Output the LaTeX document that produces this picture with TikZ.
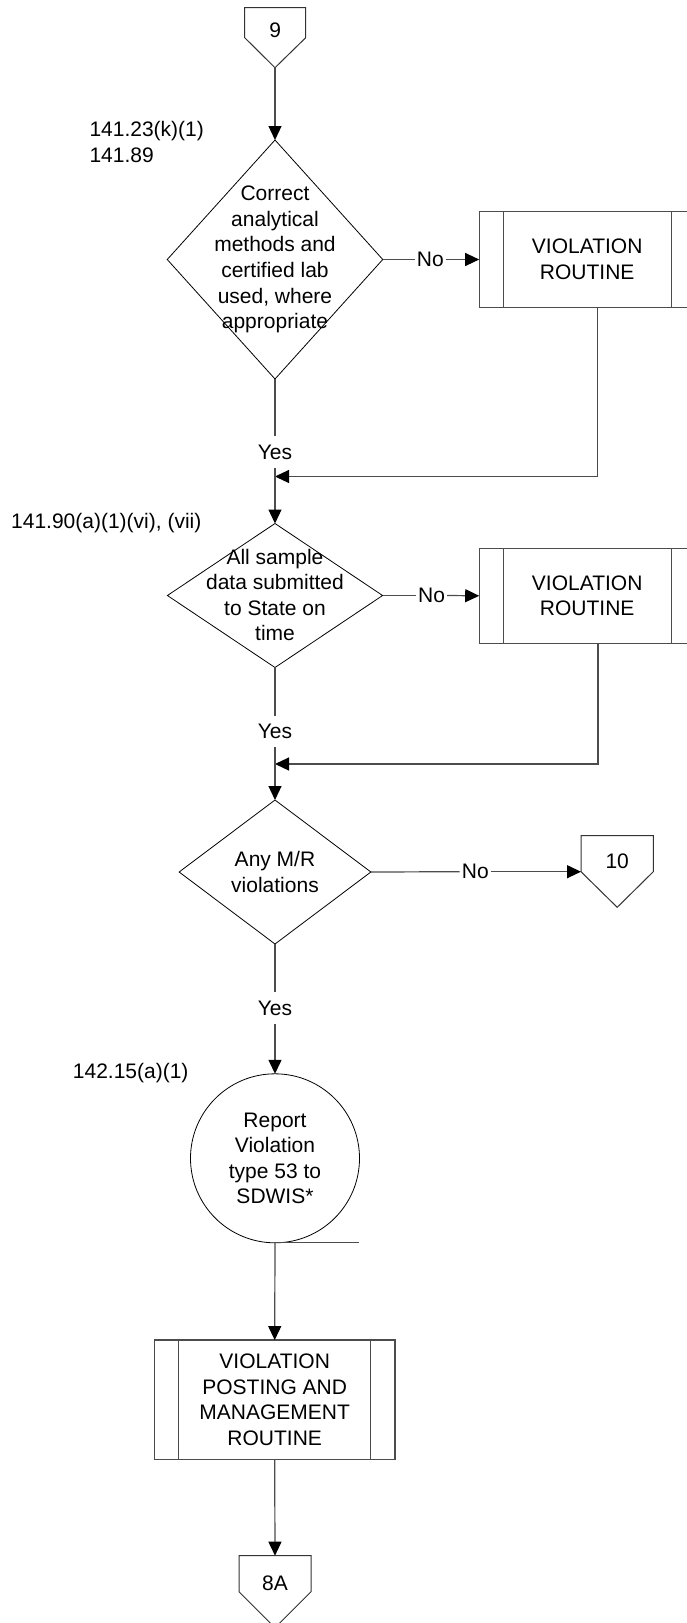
\documentclass[tikz,border=0pt]{standalone}
\usepackage{fontspec}
\setmainfont{Liberation Sans}
\usetikzlibrary{shapes.geometric,arrows.meta}
\begin{document}
\begin{tikzpicture}[x=1pt,y=-1pt,
  every node/.style={font=\fontsize{21pt}{25.6pt}\selectfont, text=black},
  conn/.style={draw=black!70, line width=1.2pt},
  arr/.style={-{Triangle[length=14pt,width=13pt,color=black]}},
  dia/.style={diamond, draw=black, line width=0.8pt, inner sep=0pt, outer sep=0pt},
  subr/.style={rectangle, draw=black!70, line width=1.2pt, inner sep=0pt, outer sep=0pt, align=center},
  offp/.style={draw=black!80, line width=1pt},
  lbl/.style={inner sep=0pt, anchor=west, align=left},
  yes/.style={inner xsep=2pt, inner ysep=8pt},
  no/.style={inner xsep=2pt, inner ysep=1pt},
]
\path[fill=white,use as bounding box] (0,0) rectangle (687,1623);

% off-page connector 9
\draw[offp] (244.7,7.7) -- (305.7,7.7) -- (305.7,37.7) -- (275,67.7) -- (244.7,37.7) -- cycle;
\node (n9) at (275.2,30) {9};
\coordinate (k9) at (275,67.7);

% decision 1
\node[dia, minimum width=215.5pt, minimum height=239pt] (d1) at (275,259.5) {};
\node[align=center, inner sep=0pt] (t1) at (275,259.5) {Correct\\analytical\\methods and\\certified lab\\used, where\\appropriate};
\node[lbl] (r1) at (89.3,141.7) {141.23(k)(1)\\141.89};
\draw[conn,arr] (k9) -- (d1.north);

\node[subr, minimum width=216pt, minimum height=95.6pt] (b1) at (587.2,259.5) {VIOLATION\\ROUTINE};
\draw[conn] ([xshift=24pt]b1.north west) -- ([xshift=24pt]b1.south west)
            ([xshift=-24pt]b1.north east) -- ([xshift=-24pt]b1.south east);
\node[no] (no1) at (430.3,259.5) {No};
\draw[conn] (d1.east) -- (no1.west);
\draw[conn,arr] (no1.east) -- (b1.west);

\node[yes] (y1) at (275,452) {Yes};
\draw[conn] (d1.south) -- (y1.north);
\coordinate (m1) at (275,476.5);
\draw[conn,arr] ([xshift=10.5pt]b1.south) |- (m1);

% decision 2
\node[dia, minimum width=215.2pt, minimum height=144pt] (d2) at (275,595.5) {};
\node[align=center, inner sep=0pt] (t2) at (275,595) {All sample\\data submitted\\to State on\\time};
\node[lbl] (r2) at (11,523.5) {141.90(a)(1)(vi), (vii)};
\draw[conn,arr] (y1.south) -- (d2.north);

\node[subr, minimum width=216pt, minimum height=95pt] (b2) at (587.2,595.8) {VIOLATION\\ROUTINE};
\draw[conn] ([xshift=24pt]b2.north west) -- ([xshift=24pt]b2.south west)
            ([xshift=-24pt]b2.north east) -- ([xshift=-24pt]b2.south east);
\node[no] (no2) at (431.6,595.5) {No};
\draw[conn] (d2.east) -- (no2.west);
\draw[conn,arr] (no2.east) -- (b2.west);

\node[yes] (y2) at (275,731.7) {Yes};
\draw[conn] (d2.south) -- (y2.north);
\coordinate (m2) at (275,764);
\draw[conn,arr] ([xshift=10.8pt]b2.south) |- (m2);

% decision 3
\node[dia, minimum width=191.7pt, minimum height=144pt] (d3) at (275,872) {};
\node[align=center, inner sep=0pt] (t3) at (275,871.8) {Any M/R\\violations};
\draw[conn,arr] (y2.south) -- (d3.north);

% off-page connector 10
\draw[offp] (581,835.7) -- (653.3,835.7) -- (653.3,871.7) -- (617.2,907.3) -- (581,871.7) -- cycle;
\node (n10) at (617.2,861.7) {10};
\coordinate (k10) at (581,871.7);
\node[no] (no3) at (475.3,871.7) {No};
\draw[conn] (d3.east) -- (no3.west);
\draw[conn,arr] (no3.east) -- (k10);

\node[yes] (y3) at (275,1008) {Yes};
\draw[conn] (d3.south) -- (y3.north);

% report circle
\node[circle, draw=black, line width=0.8pt, minimum size=169pt, inner sep=0pt, outer sep=0pt, align=center] (c1) at (275,1158.3) {Report\\Violation\\type 53 to\\SDWIS*};
\draw[conn,arr] (y3.south) -- (c1.north);
\node[lbl] (r3) at (72.7,1073.5) {142.15(a)(1)};
\draw[conn] (c1.south) -- ([xshift=84.3pt]c1.south);

% posting routine
\node[subr, minimum width=240.7pt, minimum height=119.3pt] (b3) at (274.7,1399.7) {VIOLATION\\POSTING AND\\MANAGEMENT\\ROUTINE};
\draw[conn] ([xshift=24.5pt]b3.north west) -- ([xshift=24.5pt]b3.south west)
            ([xshift=-24.5pt]b3.north east) -- ([xshift=-24.5pt]b3.south east);
\draw[conn,arr] (c1.south) -- (b3.north);

% off-page connector 8A
\draw[offp] (239,1555.7) -- (311,1555.7) -- (311,1591.7) -- (275,1627.7) -- (239,1591.7) -- cycle;
\node (n8a) at (275,1583.3) {8A};
\coordinate (k8a) at (275,1555.7);
\draw[conn,arr] (b3.south) -- (k8a);
\end{tikzpicture}
\end{document}
